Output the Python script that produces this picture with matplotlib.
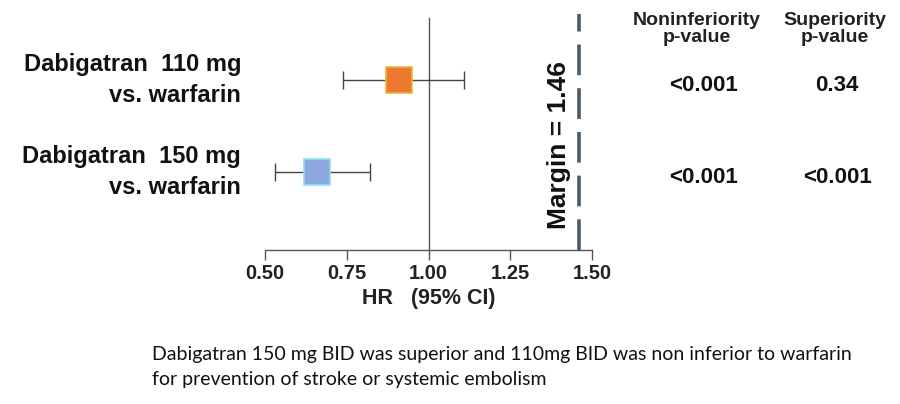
import matplotlib
matplotlib.use('Agg')
import matplotlib.pyplot as plt
from matplotlib.transforms import blended_transform_factory

plt.rcParams['font.family'] = ['Liberation Sans', 'DejaVu Sans']

# data
labels = ['Dabigatran  110 mg\nvs. warfarin', 'Dabigatran  150 mg\nvs. warfarin']
hr = [0.91, 0.66]
ci_low = [0.74, 0.53]
ci_high = [1.11, 0.82]
rows = [1, 0]
box_colors = ['#EC7A2E', '#8EA6DE']
edge_colors = ['#F3B13C', '#8FE0F0']
p_noninf = ['<0.001', '<0.001']
p_sup = ['0.34', '<0.001']
margin = 1.46
xticks = [0.50, 0.75, 1.00, 1.25, 1.50]
caption = ('Dabigatran 150 mg BID was superior and 110mg BID was non inferior to warfarin\n'
           'for prevention of stroke or systemic embolism')

fig = plt.figure(figsize=(9, 4.04), dpi=100)
ax = fig.add_axes([265 / 900, 1 - 250 / 404, 327 / 900, 250 / 404])
ax.set_xlim(0.5, 1.5)
ax.set_ylim(-0.848, 1.87)

for spine in ['top', 'right', 'left']:
    ax.spines[spine].set_visible(False)
ax.spines['bottom'].set_color('#555555')
ax.spines['bottom'].set_linewidth(1.0)
ax.set_yticks([])
ax.set_xticks(xticks)
ax.set_xticklabels(['%.2f' % t for t in xticks], fontsize=14.5, fontweight='bold', color='#222222')
ax.tick_params(axis='x', direction='out', length=7, width=1, color='#555555', pad=3)
ax.set_xlabel('HR   (95% CI)', fontsize=15.5, fontweight='bold', color='#222222', labelpad=4)

ax.axvline(1.0, ymin=0, ymax=0.93, color='#555555', lw=1.0, zorder=1)
ax.axvline(margin, ymin=0, ymax=0.945, color='#4B5A6B', lw=2.6, dashes=(8.5, 3.6), zorder=1)
ax.text(1.40, 0.293, 'Margin = %.2f' % margin, rotation=90, ha='center', va='center',
        fontsize=19, fontweight='bold', color='#111111')

for i in range(len(hr)):
    ax.errorbar(hr[i], rows[i], xerr=[[hr[i] - ci_low[i]], [ci_high[i] - hr[i]]],
                fmt='none', ecolor='#444444', elinewidth=1.0, capsize=6.5, capthick=1.0, zorder=2)
    ax.plot(hr[i], rows[i], marker='s', markersize=19, color=box_colors[i],
            markeredgecolor=edge_colors[i], markeredgewidth=1.2, zorder=3)

tr = blended_transform_factory(fig.transFigure, ax.transData)
for i in range(len(labels)):
    ax.text(241 / 900, rows[i], labels[i], transform=tr, ha='right', va='center',
            multialignment='right', fontsize=17, fontweight='bold', color='#111111',
            linespacing=1.4)
    ax.text(704 / 900, rows[i] - 0.06, p_noninf[i], transform=tr, ha='center', va='center',
            fontsize=16, fontweight='bold', color='#111111')
    ax.text(837 / 900, rows[i] - 0.06, p_sup[i], transform=tr, ha='center', va='center',
            fontsize=16, fontweight='bold', color='#111111')

fig.text(697 / 900, 1 - 29 / 404, 'Noninferiority\np-value', ha='center', va='center',
         fontsize=14, fontweight='bold', color='#222222', linespacing=1.0)
fig.text(835 / 900, 1 - 29 / 404, 'Superiority\np-value', ha='center', va='center',
         fontsize=14, fontweight='bold', color='#222222', linespacing=1.0)

fig.text(152 / 900, 1 - 367 / 404, caption, ha='left', va='center', fontsize=14,
         color='#111111', linespacing=1.55, family=['Lato', 'DejaVu Sans'])

fig.savefig('out.png', dpi=100)
